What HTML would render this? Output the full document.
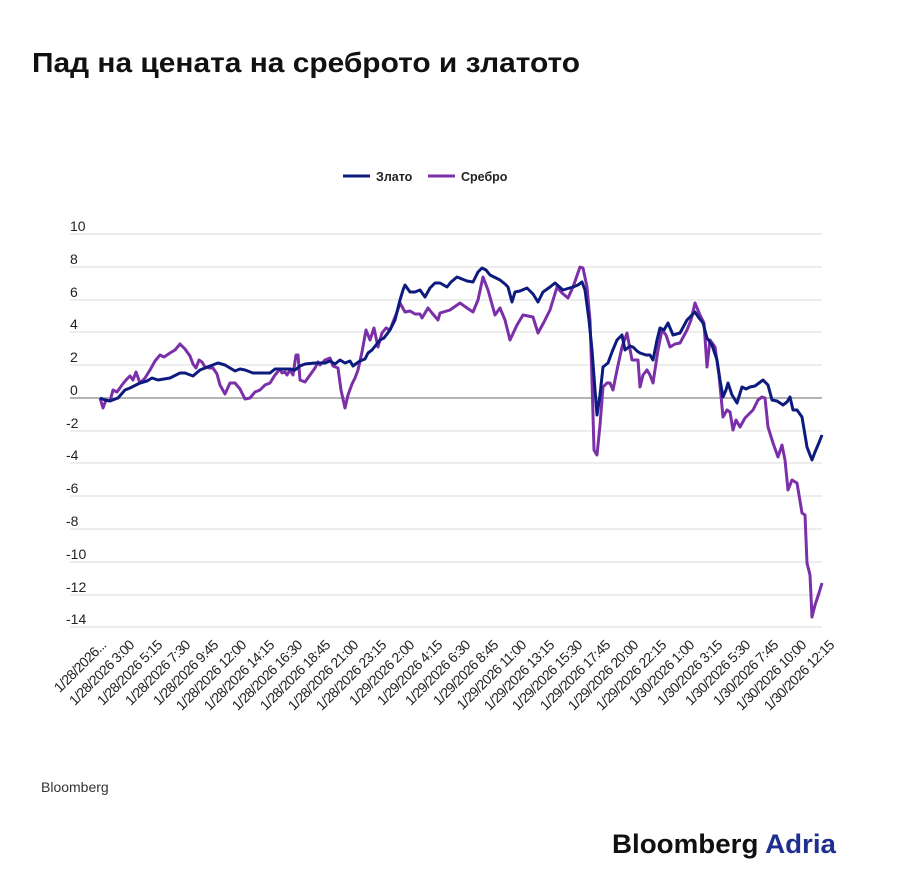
<!DOCTYPE html>
<html><head><meta charset="utf-8"><style>
body{margin:0;background:#fff;width:900px;height:878px;overflow:hidden;font-family:"Liberation Sans",sans-serif}
</style></head><body>
<svg width="900" height="878" xmlns="http://www.w3.org/2000/svg" font-family="Liberation Sans, sans-serif">
<text x="32" y="72" font-size="28" font-weight="bold" fill="#111" textLength="548" lengthAdjust="spacingAndGlyphs">Пад на цената на среброто и златото</text>
<line x1="343" y1="176" x2="370" y2="176" stroke="#0d1b7e" stroke-width="3"/>
<text x="376" y="181" font-size="12.5" font-weight="bold" fill="#222">Злато</text>
<line x1="428" y1="176" x2="455" y2="176" stroke="#7b2fa8" stroke-width="3"/>
<text x="461" y="181" font-size="12.5" font-weight="bold" fill="#222">Сребро</text>
<g stroke="#e2e2e2" stroke-width="1.3">
<line x1="70" y1="234" x2="822" y2="234"/><line x1="70" y1="267" x2="822" y2="267"/><line x1="70" y1="300" x2="822" y2="300"/><line x1="70" y1="332" x2="822" y2="332"/><line x1="70" y1="365" x2="822" y2="365"/><line x1="70" y1="431" x2="822" y2="431"/><line x1="70" y1="463" x2="822" y2="463"/><line x1="70" y1="496" x2="822" y2="496"/><line x1="70" y1="529" x2="822" y2="529"/><line x1="70" y1="562" x2="822" y2="562"/><line x1="70" y1="595" x2="822" y2="595"/><line x1="70" y1="627" x2="822" y2="627"/>
</g>
<line x1="70" y1="398" x2="822" y2="398" stroke="#888" stroke-width="1.3"/>
<g font-size="14" fill="#222">
<text x="70" y="231">10</text><text x="70" y="264">8</text><text x="70" y="297">6</text><text x="70" y="329">4</text><text x="70" y="362">2</text><text x="70" y="395">0</text><text x="66" y="428">-2</text><text x="66" y="460">-4</text><text x="66" y="493">-6</text><text x="66" y="526">-8</text><text x="66" y="559">-10</text><text x="66" y="592">-12</text><text x="66" y="624">-14</text>
</g>
<polyline fill="none" stroke="#7b2fa8" stroke-width="3" stroke-linejoin="round" points="100,398 103,408 106,400 110,401 113,390 117,392 122,385 126,380 130,376 133,380 136,372 140,383 145,378 150,370 155,361 160,355 164,357 170,353 175,350 180,344 185,349 190,356 193,364 196,368 199,360 202,362 205,367 210,368 213,368 217,374 220,385 225,394 230,383 235,383 240,389 245,399 250,398 255,392 260,390 265,385 270,383 275,375 280,369 282,373 285,372 287,375 290,370 293,375 296,355 298,355 300,380 305,382 310,375 315,368 318,362 320,365 325,360 330,358 333,366 338,368 341,390 345,408 348,395 352,384 355,378 358,370 362,352 366,330 370,340 374,328 378,347 382,333 386,328 390,330 393,322 397,312 400,303 405,312 410,311 415,314 420,314 422,318 428,308 432,313 438,320 440,313 450,310 460,303 467,308 473,312 478,300 483,277 488,290 495,315 500,308 505,320 510,340 517,325 523,315 533,317 538,333 544,322 550,310 557,287 562,293 568,298 573,287 580,267 583,268 587,287 590,320 592,380 594,450 597,455 600,425 603,387 607,383 610,383 613,390 617,370 622,347 627,333 632,360 638,360 640,387 643,375 647,370 650,375 653,383 658,350 662,330 666,335 670,347 675,344 680,343 687,330 691,320 695,303 700,315 704,323 707,367 710,340 715,347 719,375 723,417 727,410 730,412 733,430 736,420 740,427 745,418 753,410 758,400 762,397 765,398 768,427 773,443 778,457 782,445 785,460 788,490 792,480 797,483 802,513 805,515 807,563 810,575 812,617 815,605 819,593 822,583"/>
<polyline fill="none" stroke="#0d1b7e" stroke-width="3" stroke-linejoin="round" points="100,398 105,400 110,401 118,398 125,390 130,388 140,383 147,381 152,378 158,380 170,378 180,373 185,373 193,376 200,370 210,366 218,363 225,365 235,371 240,369 245,370 253,373 260,373 270,373 275,369 280,369 290,369 295,370 300,366 305,364 315,363 325,363 330,361 335,364 340,360 345,363 350,361 353,366 357,363 360,361 365,359 368,353 372,350 376,345 380,340 384,338 390,330 395,320 400,300 403,290 405,285 410,292 415,292 420,290 425,297 430,288 435,283 440,283 447,287 451,282 457,277 462,279 467,281 473,282 478,272 482,268 486,270 490,275 500,280 505,284 508,287 512,302 515,292 520,291 527,288 533,294 538,302 543,292 550,287 555,283 563,290 573,287 578,285 582,282 585,290 589,320 592,350 595,390 597,415 600,395 603,367 608,363 612,352 617,340 622,335 625,350 630,346 633,347 637,351 640,353 646,355 650,355 653,360 657,340 660,328 664,330 668,323 673,335 680,333 687,320 695,312 699,318 703,323 707,338 712,345 717,360 720,380 723,397 726,390 728,383 732,395 737,403 742,387 746,389 750,387 755,386 763,380 768,385 772,400 777,401 783,405 787,402 790,397 793,410 797,410 802,417 805,435 807,447 810,455 812,460 815,452 818,445 822,435"/>
<g font-size="14" fill="#222" text-anchor="end" letter-spacing="-0.6">
<text transform="translate(107,646) rotate(-45)">1/28/2026...</text>
<text transform="translate(135,646) rotate(-45)">1/28/2026 3:00</text>
<text transform="translate(163,646) rotate(-45)">1/28/2026 5:15</text>
<text transform="translate(191,646) rotate(-45)">1/28/2026 7:30</text>
<text transform="translate(219,646) rotate(-45)">1/28/2026 9:45</text>
<text transform="translate(247,646) rotate(-45)">1/28/2026 12:00</text>
<text transform="translate(275,646) rotate(-45)">1/28/2026 14:15</text>
<text transform="translate(303,646) rotate(-45)">1/28/2026 16:30</text>
<text transform="translate(331,646) rotate(-45)">1/28/2026 18:45</text>
<text transform="translate(359,646) rotate(-45)">1/28/2026 21:00</text>
<text transform="translate(387,646) rotate(-45)">1/28/2026 23:15</text>
<text transform="translate(415,646) rotate(-45)">1/29/2026 2:00</text>
<text transform="translate(443,646) rotate(-45)">1/29/2026 4:15</text>
<text transform="translate(471,646) rotate(-45)">1/29/2026 6:30</text>
<text transform="translate(499,646) rotate(-45)">1/29/2026 8:45</text>
<text transform="translate(527,646) rotate(-45)">1/29/2026 11:00</text>
<text transform="translate(555,646) rotate(-45)">1/29/2026 13:15</text>
<text transform="translate(583,646) rotate(-45)">1/29/2026 15:30</text>
<text transform="translate(611,646) rotate(-45)">1/29/2026 17:45</text>
<text transform="translate(639,646) rotate(-45)">1/29/2026 20:00</text>
<text transform="translate(667,646) rotate(-45)">1/29/2026 22:15</text>
<text transform="translate(695,646) rotate(-45)">1/30/2026 1:00</text>
<text transform="translate(723,646) rotate(-45)">1/30/2026 3:15</text>
<text transform="translate(751,646) rotate(-45)">1/30/2026 5:30</text>
<text transform="translate(779,646) rotate(-45)">1/30/2026 7:45</text>
<text transform="translate(807,646) rotate(-45)">1/30/2026 10:00</text>
<text transform="translate(835,646) rotate(-45)">1/30/2026 12:15</text>
</g>
<text x="41" y="792" font-size="14" fill="#333">Bloomberg</text>
<text x="612" y="853" font-size="27" font-weight="bold" fill="#111" textLength="224" lengthAdjust="spacingAndGlyphs">Bloomberg <tspan fill="#1f2f8f">Adria</tspan></text>
</svg>
</body></html>
